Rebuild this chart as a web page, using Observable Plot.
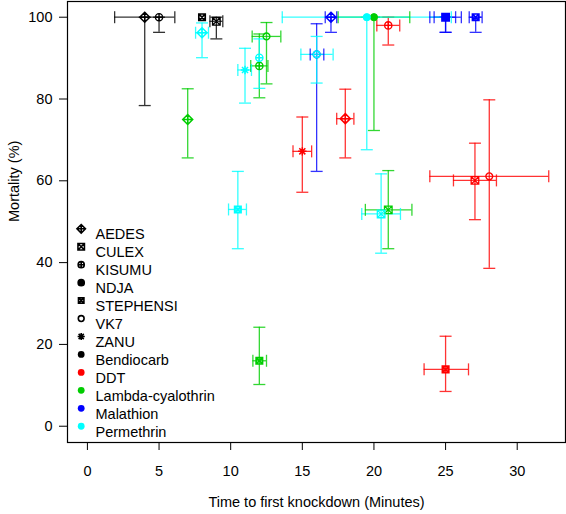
<!DOCTYPE html>
<html><head><meta charset="utf-8">
<script src="https://cdn.jsdelivr.net/npm/d3@7"></script>
<script src="https://cdn.jsdelivr.net/npm/@observablehq/plot@0.6"></script>
<style>body{margin:0;background:#fff}</style>
</head><body><div id="chart"></div>
<script>
const insecticides = ["Bendiocarb", "DDT", "Lambda-cyalothrin", "Malathion", "Permethrin"];
const insecticideColors = ["#000000", "#ff0000", "#00cd00", "#0000ff", "#00ffff"];
const speciesNames = ["AEDES", "CULEX", "KISUMU", "NDJA", "STEPHENSI", "VK7", "ZANU"];
const xTicks = [0, 5, 10, 15, 20, 25, 30];
const yTicks = [0, 20, 40, 60, 80, 100];

const pointInsecticide = [
  "Bendiocarb","Bendiocarb","Bendiocarb","Bendiocarb",
  "Malathion","Malathion","Malathion","Malathion","Malathion",
  "DDT","DDT","DDT","DDT","DDT","DDT",
  "Lambda-cyalothrin","Lambda-cyalothrin","Lambda-cyalothrin","Lambda-cyalothrin","Lambda-cyalothrin","Lambda-cyalothrin",
  "Permethrin","Permethrin","Permethrin","Permethrin","Permethrin","Permethrin","Permethrin"
];
const pointSpecies = [
  "AEDES","KISUMU","STEPHENSI","CULEX",
  "AEDES","VK7","NDJA","CULEX","STEPHENSI",
  "KISUMU","ZANU","AEDES","VK7","CULEX","STEPHENSI",
  "AEDES","KISUMU","VK7","NDJA","CULEX","STEPHENSI",
  "AEDES","ZANU","KISUMU","VK7","NDJA","STEPHENSI","CULEX"
];
const time =     [4, 5, 8, 9,   17, 16, 25, 25, 27.1,   21, 15, 18, 28.05, 27.05, 25,   7, 12, 12.5, 20, 21, 12,   8, 11, 12, 16, 19.5, 10.5, 20.5];
const timeLo =   [1.9, null, null, 8.55,   16.6, 15.55, 23.9, 24.2, 26.65,   20.2, 14.35, 17.4, 23.9, 25.55, 23.5,   null, 11.4, 11.5, 17.5, 19.4, 11.55,   7.55, 10.5, null, 14.9, 13.6, 9.85, 19.15];
const timeHi =   [6.1, null, null, 9.45,   17.4, 16.5, 26.1, 25.7, 27.55,   21.8, 15.65, 18.6, 32.2, 28.55, 26.6,   null, 12.6, 13.5, 22.5, 22.65, 12.5,   8.45, 11.45, null, 17.15, 25.4, 11.1, 21.85];
const mortality =[100, 100, 100, 99,   100, 90.9, 100, 100, 100,   98, 67.2, 75.2, 61.1, 60.1, 13.9,   75, 88.1, 95.3, 100, 52.9, 16,   96.2, 87.1, 90.1, 90.9, 100, 53, 51.9];
const mortLo =   [78.4, 96.3, null, 94.7,   96.3, 62.3, 96.3, 96.3, 96.3,   93.2, 57.2, 65.6, 38.6, 50.5, 8.5,   65.6, 80.3, 83.7, 72.3, 43.4, 10.2,   90.1, 79.0, 82.6, 83.9, 67.6, 43.4, 42.3];
const mortHi =   [100, 100, null, 100,   100, 98.4, 100, 100, 100,   100, 75.6, 82.4, 79.8, 69.2, 22,   82.5, 95.9, 98.7, 100, 62.5, 24.2,   98.6, 92.4, 94.7, 95.3, 100, 62.3, 61.7];

const rows = time.map((t, i) => ({
  ins: pointInsecticide[i], sp: pointSpecies[i], t,
  tlo: timeLo[i], thi: timeHi[i], m: mortality[i], mlo: mortLo[i], mhi: mortHi[i]
}));

function makeShape(name, k) {
  const draw = {
    AEDES: c => { const r = 5*k; c.moveTo(0,-r); c.lineTo(r,0); c.lineTo(0,r); c.lineTo(-r,0); c.closePath(); c.moveTo(0,-r); c.lineTo(0,r); c.moveTo(-r,0); c.lineTo(r,0); },
    CULEX: c => { const r = 3.8*k; c.moveTo(-r,-r); c.lineTo(r,-r); c.lineTo(r,r); c.lineTo(-r,r); c.closePath(); c.moveTo(-r,-r); c.lineTo(r,r); c.moveTo(r,-r); c.lineTo(-r,r); },
    KISUMU: c => { const r = 3.6*k; c.moveTo(r,0); c.arc(0,0,r,0,2*Math.PI); c.moveTo(0,-r); c.lineTo(0,r); c.moveTo(-r,0); c.lineTo(r,0); },
    NDJA: c => { const r = 3.6*k; c.moveTo(r,0); c.arc(0,0,r,0,2*Math.PI); },
    STEPHENSI: c => { const r = 3.2*k; c.moveTo(-r,-r); c.lineTo(r,-r); c.lineTo(r,r); c.lineTo(-r,r); c.closePath(); c.moveTo(-r,-r); c.lineTo(r,r); c.moveTo(r,-r); c.lineTo(-r,r); },
    VK7: c => { const r = 3.4*k; c.moveTo(r,0); c.arc(0,0,r,0,2*Math.PI); },
    ZANU: c => { const r = 4.2*k, q = r*0.72; c.moveTo(0,-r); c.lineTo(0,r); c.moveTo(-r,0); c.lineTo(r,0); c.moveTo(-q,-q); c.lineTo(q,q); c.moveTo(q,-q); c.lineTo(-q,q); }
  }[name];
  return {draw(context) { draw(context); }};
}
const filledSpecies = new Set(["NDJA"]);
const speciesStroke = {AEDES: 1.5, CULEX: 1.3, KISUMU: 1.4, NDJA: 1, STEPHENSI: 1.7, VK7: 1.4, ZANU: 1.5};
const hcap = {draw(c) { c.moveTo(-6,0); c.lineTo(6,0); }};
const vcap = {draw(c) { c.moveTo(0,-6); c.lineTo(0,6); }};

const withY = rows.filter(d => d.mlo != null);
const withX = rows.filter(d => d.tlo != null);
const barStyle = {stroke: "ins", strokeWidth: 1.3, strokeOpacity: 0.8};
const FS = 14.5;

const marks = [
  Plot.ruleX(withY, {x: "t", y1: "mlo", y2: "mhi", ...barStyle}),
  Plot.dot(withY, {x: "t", y: "mlo", symbol: hcap, ...barStyle}),
  Plot.dot(withY, {x: "t", y: "mhi", symbol: hcap, ...barStyle}),
  Plot.ruleY(withX, {y: "m", x1: "tlo", x2: "thi", ...barStyle}),
  Plot.dot(withX, {x: "tlo", y: "m", symbol: vcap, ...barStyle}),
  Plot.dot(withX, {x: "thi", y: "m", symbol: vcap, ...barStyle})
];
for (const ins of insecticides) {
  for (const s of speciesNames) {
    const sub = rows.filter(d => d.sp === s && d.ins === ins);
    if (!sub.length) continue;
    marks.push(Plot.dot(sub, {
      x: "t", y: "m", symbol: makeShape(s, 1),
      stroke: "ins", fill: filledSpecies.has(s) ? "ins" : "none",
      strokeWidth: speciesStroke[s]
    }));
  }
}
// legend inside the frame
const legendItems = [...speciesNames.map(s => ({label: s, sp: s})), ...insecticides.map(n => ({label: n, ins: n}))];
legendItems.forEach((e, i) => {
  const dy = 227.3 + i * 17.95;
  if (e.sp) {
    marks.push(Plot.dot([e], {frameAnchor: "top-left", dx: 13.7, dy, symbol: makeShape(e.sp, 0.85),
      stroke: "black", fill: filledSpecies.has(e.sp) ? "black" : "none", strokeWidth: 1.6}));
  } else {
    marks.push(Plot.dot([e], {frameAnchor: "top-left", dx: 13.7, dy, r: 3.4, fill: d => d.ins, stroke: "none"}));
  }
  marks.push(Plot.text([e], {frameAnchor: "top-left", dx: 28, dy, text: "label", textAnchor: "start", fill: "black", fontSize: FS}));
});
marks.push(
  Plot.frame({stroke: "black", strokeWidth: 1.2}),
  Plot.axisX({ticks: xTicks, tickSize: 8, tickPadding: 15, label: null, fontSize: FS, tickFormat: d => String(d)}),
  Plot.axisY({ticks: yTicks, tickSize: 8, tickPadding: 7, label: null, fontSize: FS, tickFormat: d => String(d)}),
  Plot.text(["Time to first knockdown (Minutes)"], {frameAnchor: "bottom", dy: 64, text: d => d, fontSize: FS, fill: "black"}),
  Plot.text(["Mortality (%)"], {frameAnchor: "left", dx: -53, rotate: -90, text: d => d, fontSize: FS, fill: "black"})
);

const chart = Plot.plot({
  width: 566, height: 514,
  marginLeft: 67, marginRight: 1, marginTop: 1, marginBottom: 72,
  x: {domain: [-1.39, 33.37]},
  y: {domain: [-3.98, 103.84]},
  color: {domain: insecticides, range: insecticideColors},
  style: {fontFamily: "'Liberation Sans', Arial, sans-serif", fontSize: "14.5px", background: "white", color: "black"},
  marks
});
document.getElementById("chart").appendChild(chart);
</script>
</body></html>
